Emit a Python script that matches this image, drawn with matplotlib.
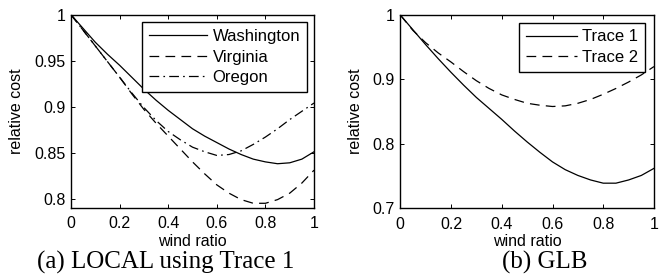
import matplotlib

matplotlib.use("Agg")
import matplotlib.pyplot as plt

plt.rcParams["font.family"] = ["Liberation Sans", "DejaVu Sans"]
plt.rcParams["lines.scale_dashes"] = False

# wind ratio samples
wind = [0.0, 0.05, 0.1, 0.15, 0.2, 0.25, 0.3, 0.35, 0.4, 0.45, 0.5,
        0.55, 0.6, 0.65, 0.7, 0.75, 0.8, 0.85, 0.9, 0.95, 1.0]

# (a) LOCAL using Trace 1
washington = [1.000, 0.985, 0.970, 0.957, 0.945, 0.932, 0.919, 0.907, 0.896, 0.886, 0.876,
              0.868, 0.861, 0.854, 0.848, 0.843, 0.840, 0.838, 0.839, 0.843, 0.851]
virginia = [1.000, 0.983, 0.966, 0.949, 0.932, 0.914, 0.897, 0.882, 0.868, 0.854, 0.840,
            0.827, 0.815, 0.806, 0.799, 0.795, 0.795, 0.799, 0.806, 0.817, 0.831]
oregon = [1.000, 0.983, 0.966, 0.949, 0.932, 0.915, 0.899, 0.885, 0.873, 0.864, 0.856,
          0.851, 0.847, 0.848, 0.852, 0.859, 0.867, 0.876, 0.886, 0.895, 0.904]

# (b) GLB
trace1 = [1.000, 0.977, 0.954, 0.932, 0.911, 0.891, 0.872, 0.855, 0.838, 0.820, 0.803,
          0.787, 0.772, 0.760, 0.751, 0.744, 0.739, 0.739, 0.744, 0.751, 0.762]
trace2 = [1.000, 0.976, 0.957, 0.941, 0.927, 0.912, 0.898, 0.886, 0.876, 0.869, 0.863,
          0.860, 0.858, 0.859, 0.863, 0.869, 0.877, 0.886, 0.896, 0.907, 0.920]

xticks = [0, 0.2, 0.4, 0.6, 0.8, 1]
xticklabels = ["0", "0.2", "0.4", "0.6", "0.8", "1"]
yticks_a = [0.8, 0.85, 0.9, 0.95, 1]
yticklabels_a = ["0.8", "0.85", "0.9", "0.95", "1"]
yticks_b = [0.7, 0.8, 0.9, 1]
yticklabels_b = ["0.7", "0.8", "0.9", "1"]

FS = 11.5
LW = 0.9
DASH = (0, (7, 4.5))
DASHDOT = (0, (7, 3, 1.2, 3))

fig = plt.figure(figsize=(6.6, 2.78), dpi=100)
ax_a = fig.add_axes([0.1076, 0.2522, 0.3682, 0.695])
ax_b = fig.add_axes([0.6065, 0.2507, 0.3844, 0.6953])


def style_axes(ax, yticks, yticklabels, ylim):
    ax.set_xlim(0, 1)
    ax.set_ylim(*ylim)
    ax.set_xticks(xticks)
    ax.set_xticklabels(xticklabels)
    ax.set_yticks(yticks)
    ax.set_yticklabels(yticklabels)
    ax.tick_params(direction="in", length=3, width=0.7, top=True, right=True,
                   labelsize=FS, pad=4)
    ax.tick_params(axis="x", pad=6)
    for s in ax.spines.values():
        s.set_linewidth(1.0)
    ax.set_xlabel("wind ratio", fontsize=FS, labelpad=2)
    ax.set_ylabel("relative cost", fontsize=FS, labelpad=7)


ax_a.plot(wind, washington, color="black", lw=LW, linestyle="-", label="Washington")
ax_a.plot(wind, virginia, color="black", lw=LW, linestyle=DASH, label="Virginia")
ax_a.plot(wind, oregon, color="black", lw=LW, linestyle=DASHDOT, label="Oregon")
style_axes(ax_a, yticks_a, yticklabels_a, (0.79, 1.0))

ax_b.plot(wind, trace1, color="black", lw=LW, linestyle="-", label="Trace 1")
ax_b.plot(wind, trace2, color="black", lw=LW, linestyle=DASH, label="Trace 2")
style_axes(ax_b, yticks_b, yticklabels_b, (0.7, 1.0))

for ax, anchor, hl in [(ax_a, (0.97, 0.96), 3.5), (ax_b, (0.965, 0.96), 3.1)]:
    leg = ax.legend(loc="upper right", bbox_to_anchor=anchor, fontsize=12,
                    handlelength=hl, handletextpad=0.3, labelspacing=0.33,
                    borderpad=0.4, borderaxespad=0, fancybox=False,
                    framealpha=1, edgecolor="black")
    leg.get_frame().set_linewidth(1.0)

fig.text(166 / 660, 1 - 269 / 278, "(a) LOCAL using Trace 1",
         family="Liberation Serif", fontsize=18, ha="center", va="baseline")
fig.text(545 / 660, 1 - 269 / 278, "(b) GLB",
         family="Liberation Serif", fontsize=18, ha="center", va="baseline")

fig.savefig("out.png", dpi=100)
